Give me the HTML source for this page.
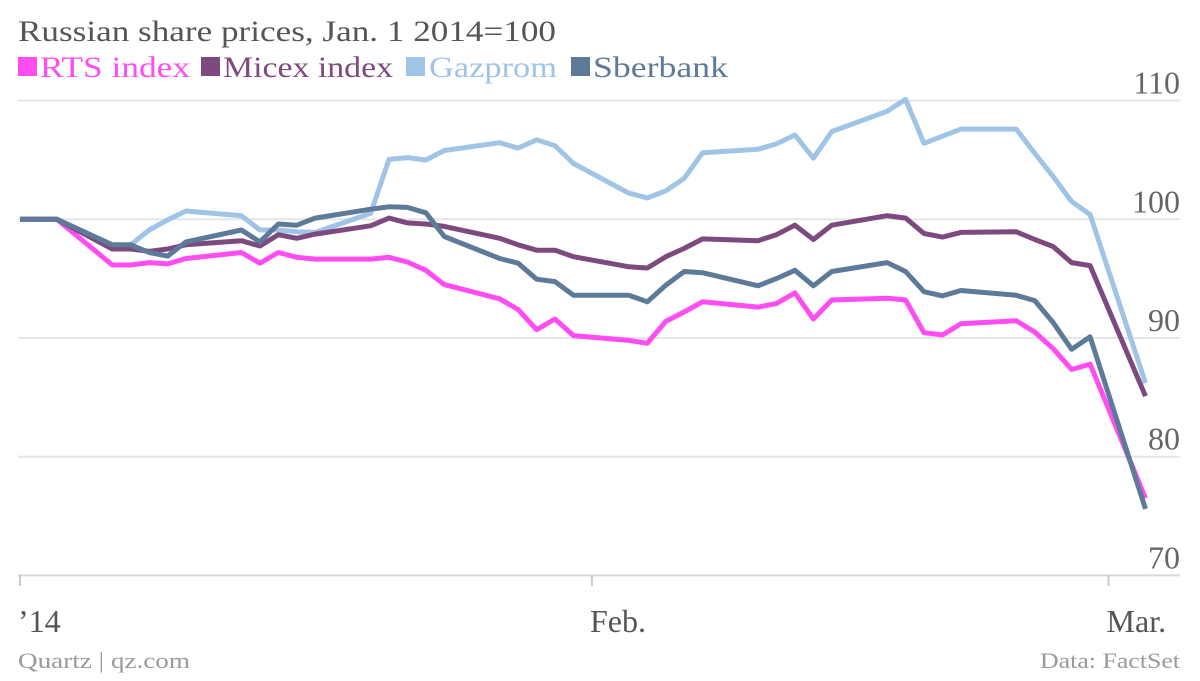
<!DOCTYPE html>
<html><head><meta charset="utf-8"><style>
body{margin:0;background:#fff;}
svg text{font-family:"Liberation Serif",serif;}
</style></head><body>
<svg id="chart" width="1200" height="676" viewBox="0 0 1200 676" xmlns="http://www.w3.org/2000/svg">
<text x="18" y="41" font-size="30" fill="#555" textLength="538" lengthAdjust="spacingAndGlyphs">Russian share prices, Jan. 1 2014=100</text>
<g font-size="30">
 <g><rect x="18" y="57" width="19" height="19" fill="#ff4df2"/><text x="40" y="77" fill="#ff4df2" textLength="150" lengthAdjust="spacingAndGlyphs">RTS index</text></g>
 <g><rect x="201" y="57" width="19" height="19" fill="#7d4a7f"/><text x="223" y="77" fill="#7d4a7f" textLength="170" lengthAdjust="spacingAndGlyphs">Micex index</text></g>
 <g><rect x="406" y="57" width="19" height="19" fill="#9fc4e6"/><text x="429" y="77" fill="#9fc4e6" textLength="128" lengthAdjust="spacingAndGlyphs">Gazprom</text></g>
 <g><rect x="571" y="57" width="19" height="19" fill="#5d7a99"/><text x="593" y="77" fill="#5d7a99" textLength="135" lengthAdjust="spacingAndGlyphs">Sberbank</text></g>
</g>
<g id="grid"></g>
<g id="yaxis"></g>
<g id="xaxis"></g>
<g id="series"></g>
<text x="18" y="668" font-size="22" fill="#9a9a9a" textLength="172" lengthAdjust="spacingAndGlyphs">Quartz | qz.com</text>
<text x="1040" y="668" font-size="22" fill="#9a9a9a" textLength="140" lengthAdjust="spacingAndGlyphs">Data: FactSet</text>
</svg>
<script>
const days=[0,2,5,6,7,8,9,12,13,14,15,16,19,20,21,22,23,26,27,28,29,30,33,34,35,36,37,40,41,42,43,44,47,48,49,50,51,54,55,56,57,58,61];
const rts=[100,100,96.15,96.15,96.35,96.24,96.7,97.2,96.3,97.2,96.8,96.65,96.65,96.8,96.4,95.7,94.5,93.3,92.4,90.7,91.6,90.2,89.8,89.55,91.4,92.2,93.05,92.6,92.9,93.8,91.6,93.2,93.35,93.2,90.45,90.25,91.2,91.45,90.5,89.1,87.35,87.8,76.5];
const micex=[100,100,97.5,97.5,97.3,97.5,97.85,98.2,97.75,98.7,98.4,98.75,99.45,100.1,99.7,99.6,99.4,98.4,97.85,97.4,97.4,96.85,96.0,95.9,96.85,97.55,98.35,98.2,98.7,99.5,98.3,99.5,100.3,100.1,98.8,98.5,98.9,98.95,98.3,97.7,96.35,96.1,85.1];
const gazprom=[100,100,97.7,97.85,99.1,99.95,100.7,100.3,99.1,99.1,98.95,98.9,100.5,105.05,105.2,105.0,105.8,106.45,106.0,106.7,106.2,104.7,102.2,101.8,102.4,103.45,105.6,105.9,106.35,107.1,105.15,107.4,109.1,110.1,106.4,107.0,107.6,107.6,105.55,103.6,101.5,100.4,86.2];
const sberbank=[100,100,97.85,97.85,97.2,96.9,98.1,99.1,98.1,99.6,99.5,100.1,100.85,101.05,101.0,100.55,98.55,96.7,96.3,94.95,94.75,93.6,93.6,93.05,94.45,95.6,95.5,94.4,95.0,95.7,94.4,95.6,96.35,95.6,93.9,93.55,94.0,93.6,93.15,91.3,89.05,90.1,75.6];
const yTicks=[70,80,90,100,110];
const xTickDays=[0,31,59];
const xTickLabels=["’14","Feb.","Mar."];
const NS="http://www.w3.org/2000/svg";
function xs(d){return 20+d*18.45;}
function ys(v){return 219.3-(v-100)*11.87;}
function mk(tag,attrs,parent){const e=document.createElementNS(NS,tag);for(const k in attrs)e.setAttribute(k,attrs[k]);parent.appendChild(e);return e;}
const grid=document.getElementById('grid'),ya=document.getElementById('yaxis'),xa=document.getElementById('xaxis'),ser=document.getElementById('series');
yTicks.forEach(t=>{
 const l=mk('line',{x1:18,x2:1180,y1:ys(t),y2:ys(t),stroke:t===70?'#d8d8d8':'#e6e6e6','stroke-width':2},grid);
 
 
 const tx=mk('text',{x:1180,y:ys(t)-7,'font-size':32,fill:'#666','text-anchor':'end'},ya);
 tx.textContent=t;
 
 
});
xTickDays.forEach((d,i)=>{
 const tk=mk('line',{x1:xs(d),x2:xs(d),y1:575,y2:586,stroke:'#ccc','stroke-width':2},xa);
 
 
 const tx=mk('text',{x:xs(d)-2,y:632,'font-size':32,fill:'#555'},xa);
 tx.textContent=xTickLabels[i];
 
 
});
const seriesList=[["gazprom",gazprom,"#9fc4e6"],["rts-index",rts,"#ff4df2"],["micex-index",micex,"#7d4a7f"],["sberbank",sberbank,"#5d7a99"]];
seriesList.forEach(s=>{
 const d=s[1].map((v,i)=>(i?'L':'M')+xs(days[i]).toFixed(1)+','+ys(v).toFixed(1)).join('');
 const p=mk('path',{d:d,fill:'none',stroke:s[2],'stroke-width':5,'stroke-linejoin':'round','stroke-linecap':'butt'},ser);
 
 
});
</script>
</body></html>
